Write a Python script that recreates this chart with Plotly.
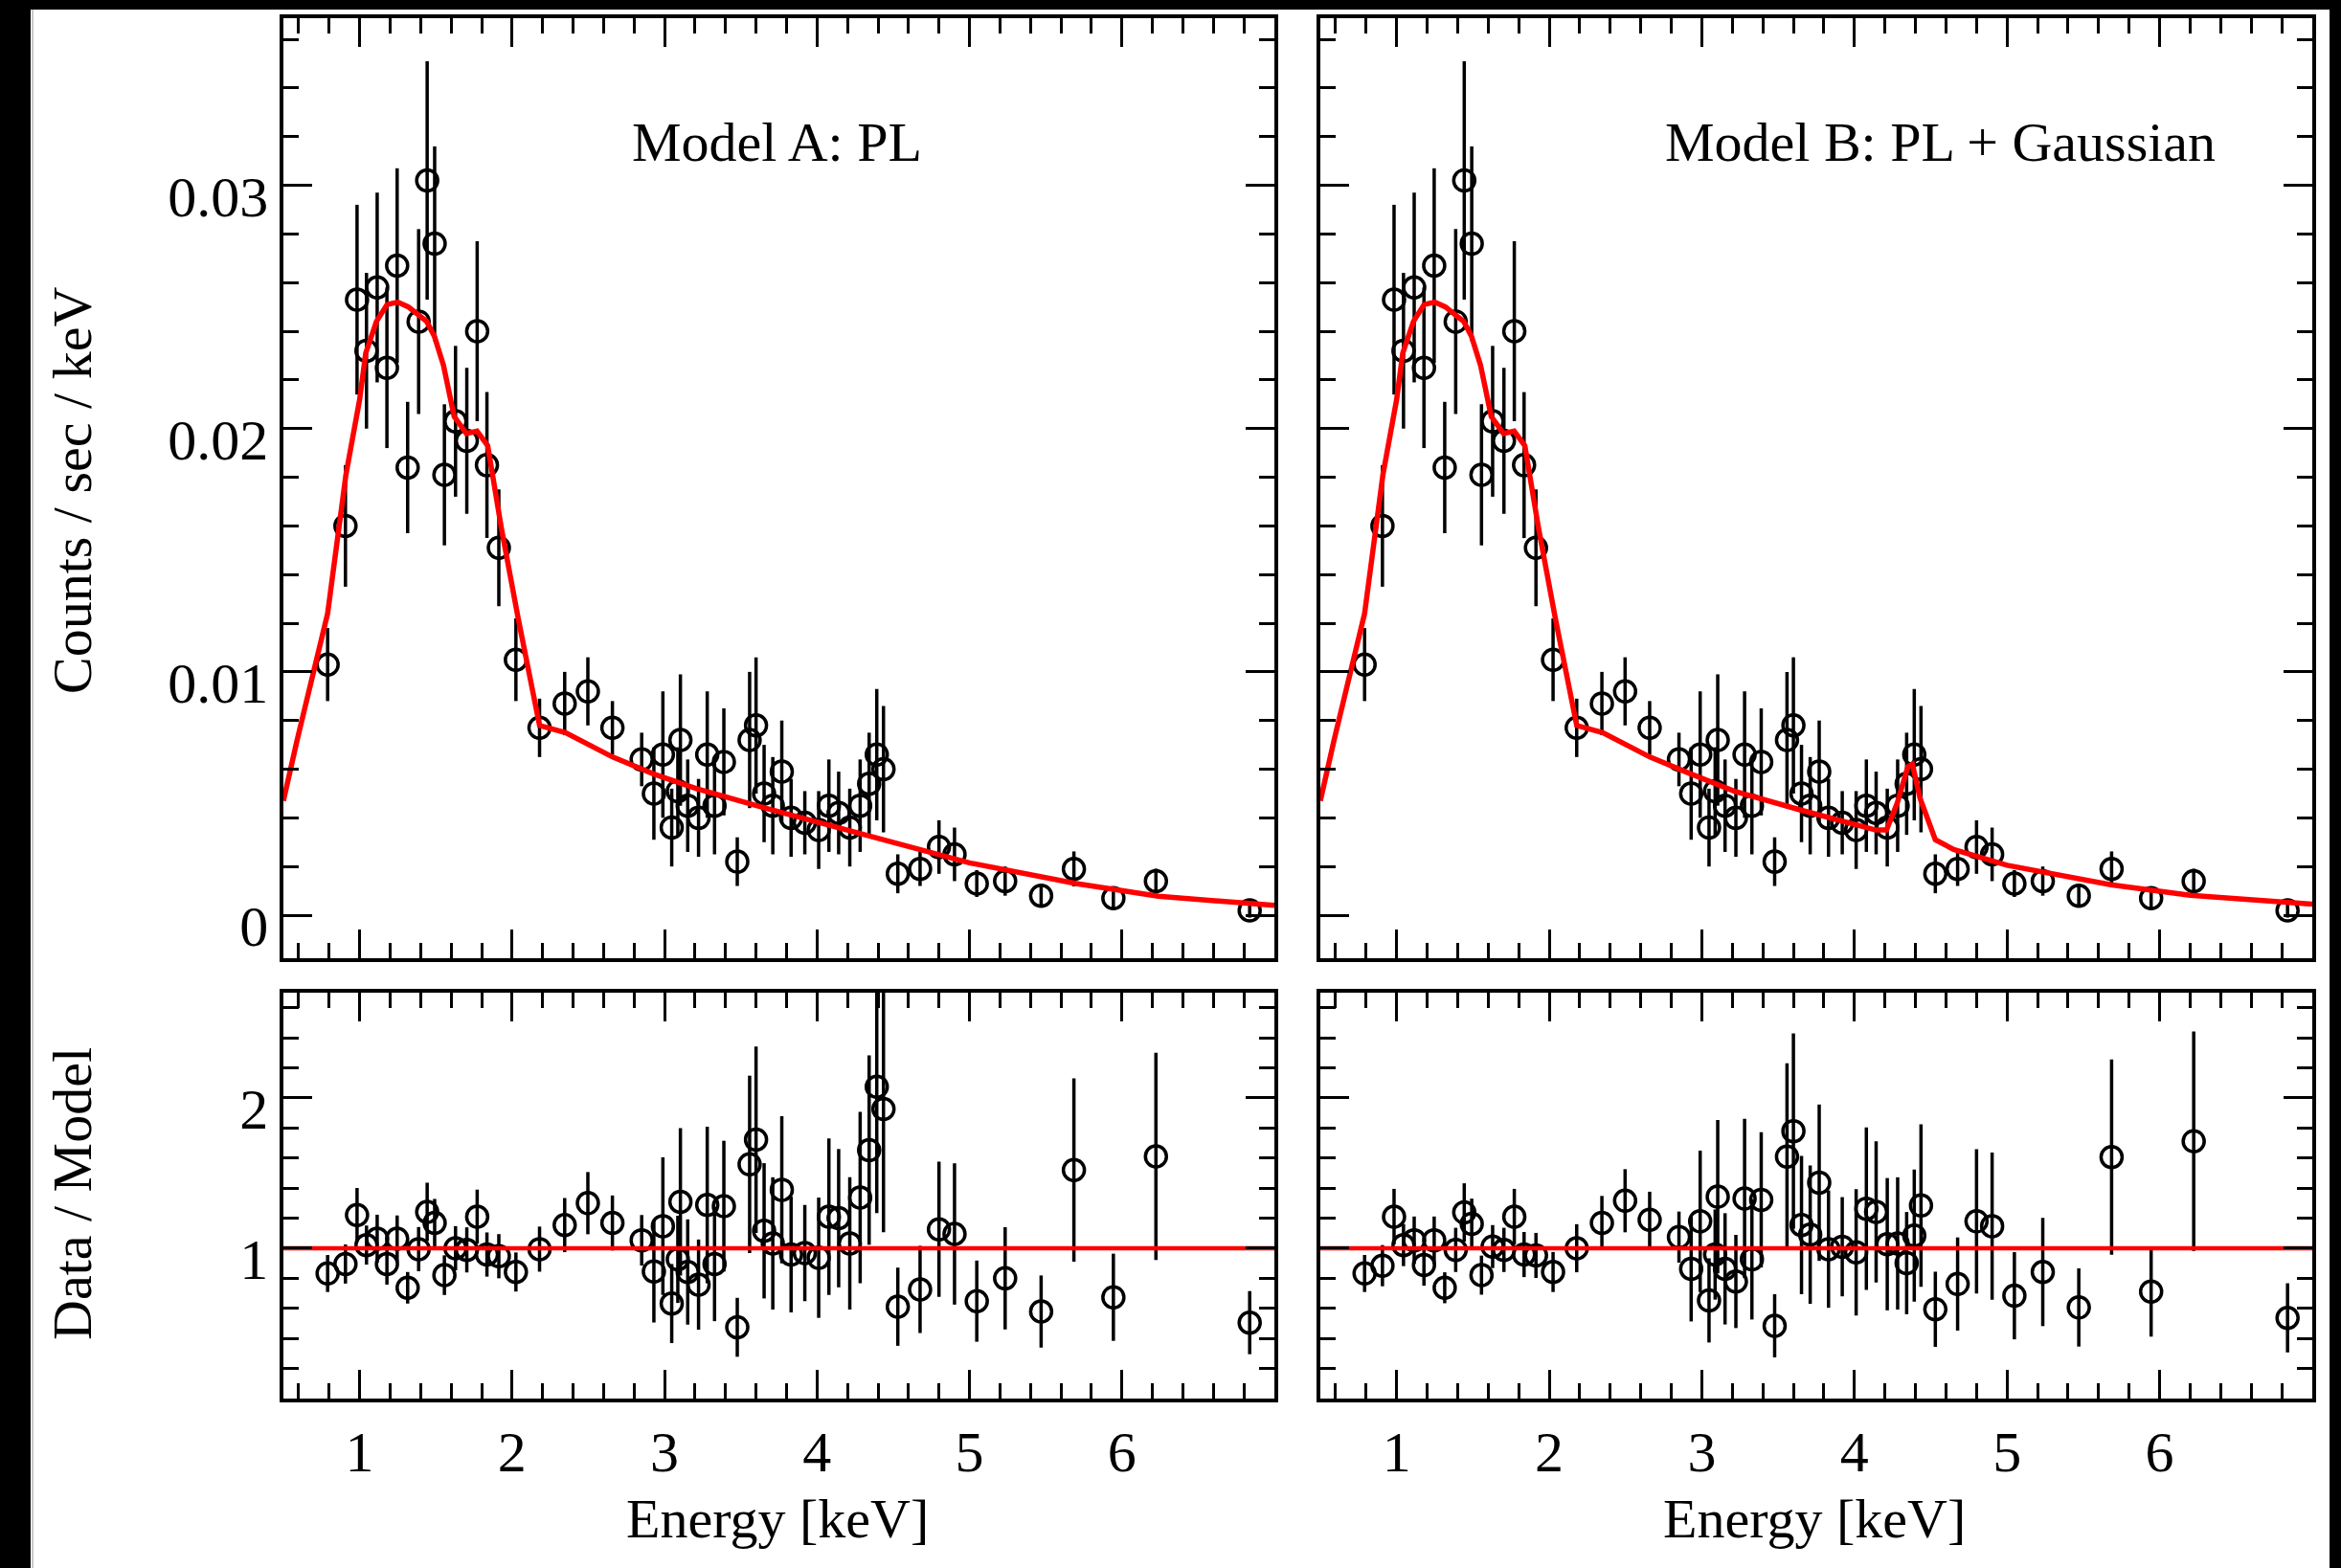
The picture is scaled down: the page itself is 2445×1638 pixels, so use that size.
import plotly.graph_objects as go

# ---------------- data ----------------
energy = [0.79, 0.907, 0.983, 1.045, 1.115, 1.179, 1.246, 1.315, 1.387, 1.443,
          1.492, 1.556, 1.629, 1.703, 1.771, 1.835, 1.913, 2.025, 2.18, 2.345,
          2.497, 2.658, 2.850, 2.930, 2.989, 3.047, 3.087, 3.104, 3.152, 3.223,
          3.280, 3.328, 3.389, 3.477, 3.558, 3.600, 3.653, 3.710, 3.769, 3.830,
          3.920, 4.011, 4.078, 4.142, 4.215, 4.283, 4.342, 4.392, 4.436, 4.530,
          4.676, 4.800, 4.902, 5.048, 5.234, 5.470, 5.685, 5.944, 6.223, 6.838]

rate = [0.0103, 0.0160, 0.0253, 0.0232, 0.0258, 0.0225, 0.0267, 0.0184, 0.0244, 0.0302,
        0.0276, 0.0181, 0.0203, 0.0195, 0.0240, 0.0185, 0.0151, 0.0105, 0.0077, 0.0087,
        0.0092, 0.0077, 0.0064, 0.0050, 0.0066, 0.0036, 0.0051, 0.0072, 0.0045, 0.0040,
        0.0066, 0.0045, 0.0063, 0.0022, 0.0072, 0.0078, 0.0050, 0.0045, 0.0059, 0.0040,
        0.0038, 0.0035, 0.0045, 0.0042, 0.0036, 0.0045, 0.0054, 0.0066, 0.0060, 0.0017,
        0.0019, 0.0028, 0.0025, 0.0013, 0.0014, 0.0008, 0.0019, 0.0007, 0.0014, 0.0002]

rate_err = [0.0015, 0.0025, 0.0039, 0.0032, 0.0039, 0.0033, 0.0040, 0.0027, 0.0038, 0.0049,
            0.0040, 0.0029, 0.0031, 0.0030, 0.0037, 0.0030, 0.0024, 0.0017, 0.0012, 0.0013,
            0.0014, 0.0011, 0.0011, 0.0019, 0.0026, 0.0016, 0.0018, 0.0027, 0.0019, 0.0016,
            0.0026, 0.0020, 0.0022, 0.0010, 0.0028, 0.0028, 0.0020, 0.0020, 0.0021, 0.0016,
            0.0013, 0.0016, 0.0019, 0.0017, 0.0016, 0.0019, 0.0021, 0.0027, 0.0026, 0.0008,
            0.0007, 0.0011, 0.0011, 0.00055, 0.0006, 0.00042, 0.00072, 0.00043, 0.00051, 0.0003]

ratio_a = [0.832, 0.895, 1.221, 1.021, 1.063, 0.895, 1.063, 0.737, 0.994, 1.242,
           1.168, 0.821, 1.0, 0.989, 1.21, 0.958, 0.947, 0.842, 0.994, 1.154,
           1.30, 1.168, 1.053, 0.846, 1.147, 0.632, 0.926, 1.309, 0.842, 0.758,
           1.288, 0.895, 1.28, 0.474, 1.558, 1.722, 1.116, 1.032, 1.389, 0.958,
           0.968, 0.937, 1.21, 1.2, 1.032, 1.337, 1.653, 2.074, 1.926, 0.611,
           0.726, 1.126, 1.095, 0.648, 0.8, 0.579, 1.52, 0.674, 1.611, 0.505]

ratio_a_err = [0.123, 0.13, 0.18, 0.13, 0.16, 0.137, 0.155, 0.105, 0.147, 0.194,
               0.16, 0.132, 0.147, 0.15, 0.18, 0.147, 0.147, 0.13, 0.15, 0.18,
               0.207, 0.183, 0.168, 0.34, 0.457, 0.263, 0.29, 0.49, 0.35, 0.30,
               0.52, 0.38, 0.435, 0.196, 0.59, 0.62, 0.45, 0.44, 0.49, 0.385,
               0.32, 0.40, 0.52, 0.46, 0.44, 0.57, 0.63, 0.84, 0.82, 0.26,
               0.29, 0.45, 0.47, 0.27, 0.34, 0.24, 0.61, 0.29, 0.69, 0.21]

ratio_b = [0.832, 0.884, 1.21, 1.021, 1.053, 0.888, 1.053, 0.737, 0.989, 1.238,
           1.162, 0.821, 1.011, 0.989, 1.21, 0.958, 0.952, 0.842, 1.0, 1.168,
           1.316, 1.189, 1.074, 0.863, 1.179, 0.653, 0.958, 1.343, 0.863, 0.779,
           1.331, 0.926, 1.322, 0.484, 1.61, 1.779, 1.154, 1.09, 1.436, 0.994,
           1.01, 0.973, 1.263, 1.242, 1.027, 1.032, 0.901, 1.084, 1.284, 0.594,
           0.762, 1.179, 1.147, 0.684, 0.842, 0.606, 1.606, 0.712, 1.712, 0.537]

ratio_b_err = [0.123, 0.137, 0.185, 0.14, 0.158, 0.137, 0.158, 0.103, 0.147, 0.194,
               0.168, 0.13, 0.143, 0.147, 0.185, 0.15, 0.15, 0.133, 0.16, 0.18,
               0.21, 0.187, 0.17, 0.35, 0.47, 0.28, 0.30, 0.51, 0.37, 0.31,
               0.53, 0.40, 0.45, 0.21, 0.62, 0.65, 0.46, 0.46, 0.52, 0.39,
               0.33, 0.42, 0.54, 0.47, 0.44, 0.44, 0.34, 0.44, 0.54, 0.25,
               0.31, 0.48, 0.49, 0.29, 0.36, 0.26, 0.65, 0.30, 0.73, 0.23]

model_a_energy = [0.5, 0.59, 0.79, 0.91, 1.0, 1.04, 1.11, 1.18, 1.25, 1.32,
                  1.44, 1.49, 1.55, 1.62, 1.70, 1.77, 1.84, 1.93, 2.04, 2.18,
                  2.35, 2.66, 2.93, 3.21, 3.66, 4.25, 4.67, 5.0, 5.70, 6.24, 7.0]
model_a = [0.0047, 0.0072, 0.0124, 0.0181, 0.0212, 0.0231, 0.0244, 0.0251, 0.0252, 0.0250,
           0.0244, 0.0238, 0.0226, 0.0205, 0.0198, 0.0199, 0.0193, 0.0159, 0.0122, 0.0078,
           0.0075, 0.0065, 0.0058, 0.0052, 0.0044, 0.0034, 0.0027, 0.00215, 0.0013, 0.00078, 0.0004]

model_b_energy = [0.5, 0.59, 0.79, 0.91, 1.0, 1.04, 1.11, 1.18, 1.25, 1.32,
                  1.44, 1.49, 1.55, 1.62, 1.70, 1.77, 1.84, 1.93, 2.04, 2.18,
                  2.35, 2.66, 2.93, 3.21, 3.66, 4.14, 4.21, 4.28, 4.35, 4.38,
                  4.43, 4.53, 4.65, 5.0, 5.68, 6.2, 7.0]
model_b = [0.0047, 0.0072, 0.0124, 0.0181, 0.0212, 0.0231, 0.0244, 0.0251, 0.0252, 0.0250,
           0.0244, 0.0238, 0.0226, 0.0205, 0.0198, 0.0199, 0.0193, 0.0159, 0.0122, 0.0078,
           0.0075, 0.0065, 0.0058, 0.0051, 0.0043, 0.0035, 0.0035, 0.0046, 0.0061, 0.0062,
           0.0048, 0.0031, 0.0027, 0.00205, 0.00125, 0.00082, 0.00045]

unity_energy = [0.5, 7.0]
unity = [1.0, 1.0]

x_ticks = [1, 2, 3, 4, 5, 6]
rate_ticks = [0, 0.01, 0.02, 0.03]
rate_tick_text = ["0", "0.01", "0.02", "0.03"]
ratio_ticks = [1, 2]

x_range = [0.5, 7.0]
rate_range = [-0.00177, 0.03687]
ratio_range = [0.0, 2.7]

# ---------------- layout helpers ----------------
W, H = 2445, 1638
FONT = "Liberation Serif"
FS = 58
TFS = 60


def px(x):
    return x / W


def py(y):
    return 1 - y / H


fig = go.Figure()


def add_data(xa, ya, yvals, errs):
    fig.add_trace(go.Scatter(
        x=energy, y=yvals, mode="markers", xaxis=xa, yaxis=ya, showlegend=False,
        marker=dict(symbol="circle-open", size=22, color="black",
                    line=dict(width=3.5, color="black")),
        error_y=dict(type="data", array=errs, visible=True, thickness=3.5,
                     width=0, color="black")))


def add_line(xa, ya, xs, ys, w):
    fig.add_trace(go.Scatter(
        x=xs, y=ys, mode="lines", xaxis=xa, yaxis=ya, showlegend=False,
        line=dict(color="#ff0000", width=w)))


add_data("x", "y", rate, rate_err)
add_line("x", "y", model_a_energy, model_a, 5.5)
add_data("x2", "y2", ratio_a, ratio_a_err)
add_line("x2", "y2", unity_energy, unity, 4.5)
add_data("x3", "y3", rate, rate_err)
add_line("x3", "y3", model_b_energy, model_b, 5.5)
add_data("x4", "y4", ratio_b, ratio_b_err)
add_line("x4", "y4", unity_energy, unity, 4.5)

tickfont = dict(family=FONT, size=TFS, color="black")


def xaxis(domain, anchor, labels):
    return dict(domain=domain, anchor=anchor, range=x_range, showline=True,
                linewidth=3.5, linecolor="black", mirror="allticks",
                ticks="inside", ticklen=30, tickwidth=3, tickcolor="black",
                tickmode="array", tickvals=x_ticks,
                minor=dict(tickmode="linear", tick0=0, dtick=0.2, ticks="inside",
                           ticklen=16, tickwidth=3, tickcolor="black"),
                showgrid=False, zeroline=False, showticklabels=labels,
                tickfont=tickfont, ticklabelstandoff=0)


def yaxis(domain, anchor, rng, vals, text, minor_dt, labels):
    return dict(domain=domain, anchor=anchor, range=rng, showline=True,
                linewidth=3.5, linecolor="black", mirror="allticks",
                ticks="inside", ticklen=30, tickwidth=3, tickcolor="black",
                tickmode="array", tickvals=vals, ticktext=text,
                minor=dict(tickmode="linear", tick0=0, dtick=minor_dt, ticks="inside",
                           ticklen=16, tickwidth=3, tickcolor="black"),
                showgrid=False, zeroline=False, showticklabels=labels,
                tickfont=tickfont, ticklabelstandoff=0, ticklabelshift=11)


xl = [px(296), px(1331)]
xr = [px(1379), px(2415)]
yt = [py(1001), py(19)]
yb = [py(1461), py(1037)]

ratio_text = [str(v) for v in ratio_ticks]

fig.update_layout(
    width=W, height=H, margin=dict(l=0, r=0, t=0, b=0),
    paper_bgcolor="white", plot_bgcolor="white",
    font=dict(family=FONT, size=FS, color="black"),
    xaxis=xaxis(xl, "y", False),
    yaxis=yaxis(yt, "x", rate_range, rate_ticks, rate_tick_text, 0.002, True),
    xaxis2=xaxis(xl, "y2", True),
    yaxis2=yaxis(yb, "x2", ratio_range, ratio_ticks, ratio_text, 0.2, True),
    xaxis3=xaxis(xr, "y3", False),
    yaxis3=yaxis(yt, "x3", rate_range, rate_ticks, rate_tick_text, 0.002, False),
    xaxis4=xaxis(xr, "y4", True),
    yaxis4=yaxis(yb, "x4", ratio_range, ratio_ticks, ratio_text, 0.2, False),
)

ann = []


def text(t, x, y, angle=0):
    ann.append(dict(text=t, x=x, y=y, xref="paper", yref="paper",
                    xanchor="center", yanchor="middle", showarrow=False,
                    textangle=angle, font=dict(family=FONT, size=FS, color="black")))


text("Energy [keV]", px(812), py(1586))
text("Energy [keV]", px(1895), py(1586))
text("Counts / sec / keV", px(75), py(513), -90)
text("Data / Model", px(75), py(1247), -90)
text("Model A: PL", px(811), py(148))
text("Model B: PL + Gaussian", px(2027), py(148))
fig.update_layout(annotations=ann)

# black frame strips of the original picture
shapes = [
    dict(type="rect", xref="paper", yref="paper", x0=0, x1=px(32), y0=0, y1=1,
         fillcolor="black", line=dict(width=0), layer="above"),
    dict(type="rect", xref="paper", yref="paper", x0=0, x1=1, y0=py(10), y1=1,
         fillcolor="black", line=dict(width=0), layer="above"),
    dict(type="rect", xref="paper", yref="paper", x0=px(2433), x1=1, y0=0, y1=1,
         fillcolor="black", line=dict(width=0), layer="above"),
    dict(type="line", xref="paper", yref="paper", x0=px(34), x1=px(34), y0=0, y1=py(10),
         line=dict(color="#c8c8c8", width=2)),
]
fig.update_layout(shapes=shapes)

fig.write_html("out.html")
